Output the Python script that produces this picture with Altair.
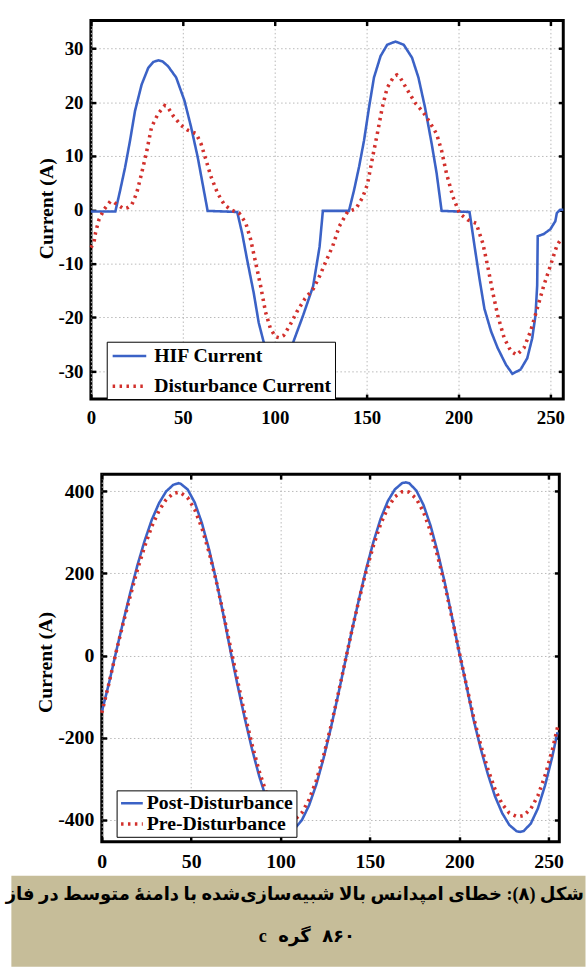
import altair as alt
import pandas as pd

# ---------------- data ----------------
# Top panel: HIF current vs disturbance current
hif_x = [0, 13.3, 15.9, 18.6, 21.3, 24, 27.6, 31.2, 34, 36.6, 39, 42, 46.4, 50.9, 54.5,
         58.1, 60.8, 63.5, 79.6, 82.3, 85, 88.6, 91.3, 94, 97, 100, 102, 104, 107, 110.1,
         115.5, 120.9, 124.4, 126.2, 140.4, 143.2, 145.9, 148.6, 151.3, 154, 157.6, 161.2,
         165.7, 170.2, 174.7, 178.2, 181.8, 185.4, 188.1, 190.8, 206, 208.7, 211.4, 214.1,
         217.7, 221.3, 225.8, 229.3, 233.8, 237.4, 240.1, 241.9, 242.8, 243.1, 246.4, 250,
         252.7, 253.5, 255.3, 257]
hif_y = [-0.3, -0.3, 3.6, 7.9, 12.9, 18.4, 23.3, 26.4, 27.5, 27.8, 27.6, 26.7, 24.6, 20.3, 15.4,
         9.8, 4.8, -0.2, -0.4, -4.4, -9.3, -15.5, -21, -24.6, -26.8, -27.9, -28.1, -27.9, -27, -24.6,
         -19.6, -14.2, -6.9, -0.2, -0.2, 3.7, 8, 12.9, 19, 24.6, 28.6, 30.7,
         31.3, 30.7, 28.3, 24.6, 19, 12.3, 6.8, -0.2, -0.4, -6.7, -12.8, -18.4,
         -22.6, -25.7, -28.8, -30.5, -29.7, -27.6, -23.9, -19.6, -14.1, -4.9, -4.5, -3.6,
         -2.1, -0.6, 0, 0]
dist_x = [0, 1.6, 2.5, 4.3, 7, 10.6, 12.5, 14.2, 17.8, 20, 22.3, 24.9, 27.6, 30.3, 33, 36.6,
          40.2, 42, 44.7, 49.1, 52.7, 57.2, 59.9, 62.6, 65.3, 68.9, 72.5, 76.1, 80.6, 84.2,
          86.9, 89.6, 92.3, 95, 97.6, 100.3, 102.5, 104.8, 108.4, 112, 116.5, 121, 124.6,
          127.6, 131.6, 135.1, 139.6, 144.2, 147.8, 150.5, 153.2, 155.8, 158.5, 161.2, 164.8,
          166.5, 168.4, 172, 176.4, 180.9, 184.5, 188.1, 190.8, 193.5, 197, 200.6, 205.1,
          209.6, 213.2, 215.9, 218.6, 221.3, 224.9, 228.5, 231.7, 235.6, 239.2, 242.8, 246.4,
          250, 253.5, 256]
dist_y = [-7, -6.2, -4.3, -1.9, 0, 1.6, 1.4, 1, 0.2, 0.4, 1, 3.1, 6.8, 10.8, 15.4, 17.9,
          19.4, 19, 17.5, 15.7, 14.8, 14.2, 12.3, 9.3, 6.2, 3.1, 1, 0, -0.6, -2.4,
          -5.5, -9.8, -14.1, -19, -22, -23.6, -23.8, -23.4, -21.4, -19, -16.5, -14.7, -12.2,
          -9.8, -6.7, -3.1, -0.4, 0.2, 2.3, 4.8, 9.7, 14.1, 19, 22.7, 24.8,
          25.1, 24.5, 22.4, 19.9, 18.1, 16.2, 14.1, 11, 6.7, 2.4, -0.7, -1.9,
          -2.5, -6.2, -10.5, -15.3, -19.6, -23.9, -26.3, -27, -25.7, -22.6, -18.4, -14.1,
          -10.4, -6.7, -5.3]

# Bottom panel: post- vs pre-disturbance current
bot_x = [0, 4, 8, 12, 16, 20, 24, 28, 32, 36, 40, 43, 44, 48, 52, 56, 60, 64, 68, 72,
         76, 80, 84, 88, 92, 96, 100, 104, 108, 112, 116, 120, 124, 128, 132, 136,
         140, 144, 148, 152, 156, 160, 164, 168, 170, 172, 176, 180, 184, 188, 192, 196, 200,
         204, 208, 212, 216, 220, 224, 228, 232, 234, 236, 240, 244, 248, 252, 255]
post_y = [-138, -68, 9, 83, 154, 221, 280, 331, 371, 400, 416, 420, 419, 405, 373, 323, 259, 184, 100, 11,
          -73, -153, -227, -293, -348, -390, -417, -428, -422, -401, -365, -315, -252, -180, -101, -19,
          62, 139, 212, 277, 333, 376, 405, 420, 422, 420, 402, 367, 316, 251, 176, 93, 7,
          -73, -156, -227, -289, -343, -384, -413, -428, -430, -428, -410, -373, -317, -248, -187]
pre_y = [-140, -68, 8, 79, 146, 210, 266, 315, 353, 380, 395, 398, 397, 385, 356, 311, 252, 182, 103, 20,
         -62, -143, -216, -281, -334, -372, -395, -404, -400, -383, -351, -305, -246, -176, -99, -18,
         62, 137, 207, 268, 320, 360, 387, 399, 400, 398, 382, 350, 302, 241, 170, 91, 8,
         -72, -150, -218, -277, -326, -362, -384, -392, -392, -390, -374, -342, -293, -232, -175]

x_ticks = [0, 50, 100, 150, 200, 250]
top_y_ticks = [-30, -20, -10, 0, 10, 20, 30]
bot_y_ticks = [-400, -200, 0, 200, 400]
top_series = ["HIF Current", "Disturbance Current"]
bot_series = ["Post-Disturbance", "Pre-Disturbance"]
y_title = "Current (A)"
caption_line1 = "شکل (۸): خطای امپدانس بالا شبیه‌سازی‌شده با دامنهٔ متوسط در فاز"
# second caption line, words in visual order (left to right)
caption_line2_words = ["c", "گره", "۸۶۰"]

# ---------------- style ----------------
SERIF = "Liberation Serif"
CAP_FONT = "Liberation Serif, DejaVu Sans"
BLUE = "#3b62c6"
RED = "#d2302c"
GRID = "#b8b8b8"
TAN = "#c6bd99"


def label_axis(orient, values, size, pad, **kw):
    return alt.Axis(orient=orient, values=values, offset=-5, tickSize=5, tickWidth=2.5,
                    tickColor="black", domain=False, grid=True, gridColor=GRID,
                    gridDash=[1.5, 2.5], gridWidth=1, labelFont=SERIF, labelFontWeight="bold",
                    labelFontSize=size, labelColor="black", labelPadding=pad,
                    labelFlush=False, labelOverlap=False, labelExpr="datum.value", **kw)


def tick_axis(orient, values):
    return alt.Axis(orient=orient, values=values, offset=-5, tickSize=5, tickWidth=2.5,
                    tickColor="black", domain=False, grid=False, labels=False, title=None)


def panel(df, series, xdom, ydom, yticks, w, h, leg, label_size, title_x, title_y):
    legend = alt.Legend(title=None, orient="none", direction="vertical", fillColor="white",
                        strokeColor="black", labelFont=SERIF, labelFontWeight="bold",
                        labelColor="black", labelLimit=400, **leg)
    base = alt.Chart(df)
    lines = base.mark_line(strokeCap="butt").encode(
        x=alt.X("x:Q", scale=alt.Scale(domain=xdom, nice=False, zero=False),
                axis=label_axis("bottom", x_ticks, label_size, 10, title=None)),
        y=alt.Y("y:Q", scale=alt.Scale(domain=ydom, nice=False, zero=False),
                axis=label_axis("left", yticks, label_size, 8, title=y_title,
                                titleFont=SERIF, titleFontWeight="bold", titleFontSize=20,
                                titleColor="black", titleAngle=270, titleAlign="center",
                                titleBaseline="middle", titleX=title_x, titleY=title_y)),
        color=alt.Color("series:N", sort=series,
                        scale=alt.Scale(domain=series, range=[BLUE, RED]), legend=legend),
        strokeDash=alt.StrokeDash("series:N", sort=series,
                                  scale=alt.Scale(domain=series, range=[[1, 0], [2.5, 4.5]]),
                                  legend=legend),
        strokeWidth=alt.StrokeWidth("series:N", sort=series,
                                    scale=alt.Scale(domain=series, range=[2.6, 3.6]),
                                    legend=None),
        detail="series:N",
    )
    ticks = base.mark_line(opacity=0).encode(
        x=alt.X("x:Q", axis=tick_axis("top", x_ticks)),
        y=alt.Y("y:Q", axis=tick_axis("right", yticks)),
    )
    return alt.layer(lines, ticks).resolve_axis(x="independent", y="independent").properties(
        width=w, height=h,
        view=alt.ViewBackground(stroke="black", strokeWidth=3, fill="white"))


top_df = pd.concat([
    pd.DataFrame({"x": hif_x, "y": hif_y, "series": top_series[0]}),
    pd.DataFrame({"x": dist_x, "y": dist_y, "series": top_series[1]}),
], ignore_index=True)
bot_df = pd.concat([
    pd.DataFrame({"x": bot_x, "y": post_y, "series": bot_series[0]}),
    pd.DataFrame({"x": bot_x, "y": pre_y, "series": bot_series[1]}),
], ignore_index=True)

# legend position is relative to the row (which starts 82 / 92 px left of the plot)
top_leg = dict(legendX=97, legendY=325, padding=3, labelFontSize=20,
               symbolType="M-1.7,0L1.7,0", symbolSize=400, symbolStrokeWidth=3,
               symbolOffset=8, labelOffset=13, rowPadding=8)
bot_leg = dict(legendX=107, legendY=320, padding=3, labelFontSize=20,
               symbolType="M-1.375,0L1.375,0", symbolSize=256, symbolStrokeWidth=3,
               symbolOffset=2.5, labelOffset=5, rowPadding=1)

top_chart = panel(top_df, top_series, [0, 257], [-35.2, 35.2], top_y_ticks, 478, 383,
                  top_leg, 19, -50, 190)
bot_chart = panel(bot_df, bot_series, [0, 256], [-454, 442], bot_y_ticks, 463, 372,
                  bot_leg, 20, -62, 190)


def spacer(w):
    return alt.Chart(pd.DataFrame({"v": [0]})).mark_rect(opacity=0).encode(
        x=alt.value(0), x2=alt.value(1), y=alt.value(0), y2=alt.value(1)
    ).properties(width=w, height=1, view=alt.ViewBackground(stroke="transparent"))


row1 = alt.hconcat(spacer(16), top_chart, spacing=7)
row2 = alt.hconcat(spacer(15), bot_chart, spacing=7)

cap_df = pd.DataFrame({"text": [caption_line1] + caption_line2_words,
                       "row": [0, 1, 2, 3]})
cap_base = alt.Chart(cap_df)


def cap_text(row, align, x, y):
    return cap_base.transform_filter(f"datum.row == {row}").mark_text(
        align=align, baseline="middle", font=CAP_FONT, fontWeight="bold",
        fontSize=18.2, color="black").encode(text="text:N", x=alt.value(x), y=alt.value(y))


caption = alt.layer(
    cap_text(0, "right", 580, 20),
    cap_text(1, "right", 259, 62),
    cap_text(2, "center", 287, 62),
    cap_text(3, "left", 315, 62),
).properties(width=581, height=92, view=alt.ViewBackground(fill=TAN, stroke="transparent"))

inner = alt.vconcat(row1, row2, spacing=42).resolve_scale(
    color="independent", strokeDash="independent", strokeWidth="independent"
).resolve_legend(color="independent", strokeDash="independent")
chart = alt.vconcat(inner, caption, spacing=1).properties(
    padding={"left": 5, "top": 12, "right": 0, "bottom": 0})

chart.save("out.html", embed_options={"renderer": "svg", "actions": False})
